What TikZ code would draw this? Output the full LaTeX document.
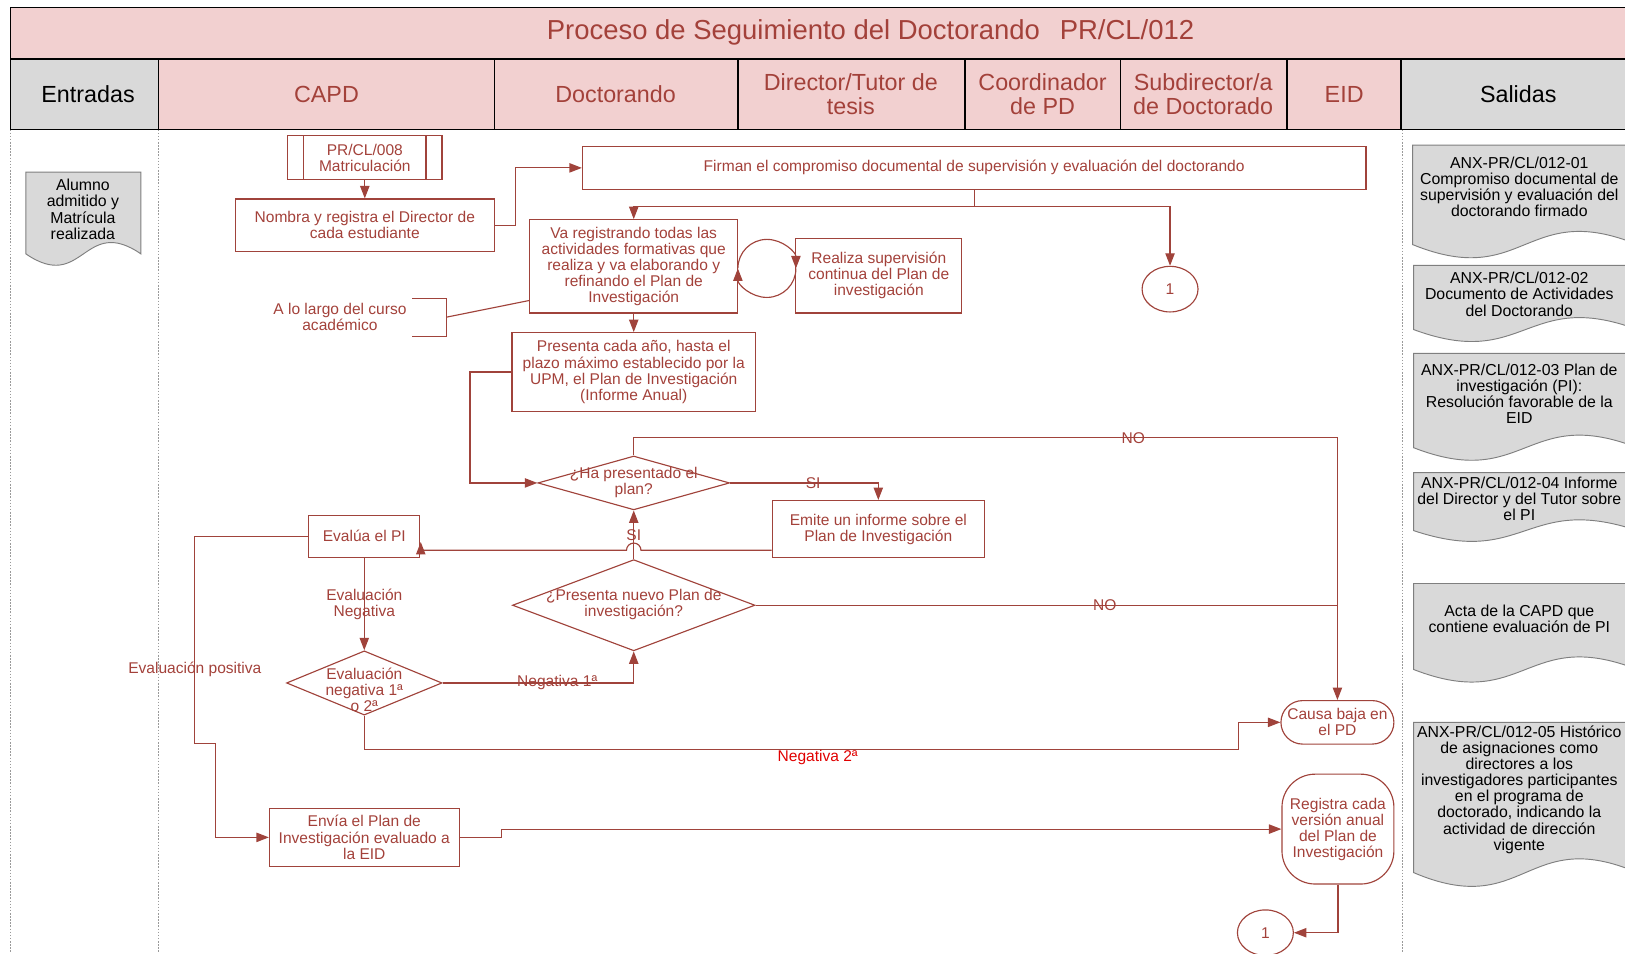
\documentclass[tikz,border=0pt]{standalone}
\usepackage{fontspec}
\setmainfont{Liberation Sans}
\usetikzlibrary{shapes.geometric,shapes.misc,arrows.meta}
\definecolor{boxc}{HTML}{A0433B}
\definecolor{txtc}{HTML}{A3413A}
\definecolor{pinkf}{HTML}{F2D0D0}
\definecolor{grayf}{HTML}{D9D9D9}
\definecolor{docline}{HTML}{7F7F7F}
\definecolor{brightred}{HTML}{E00000}
\definecolor{laneg}{HTML}{9A9A9A}
\newcommand\fsbox{\fontsize{15}{15.5}\selectfont}
\newcommand\fsdoc{\fontsize{15.3}{15.5}\selectfont}
\newcommand\fshead{\fontsize{22.5}{23}\selectfont}
\newcommand\fstitle{\fontsize{26.5}{28}\selectfont}
\newcommand\mydoc[5]{%
  \draw[docst] (#1,#2) -- (#3,#2) -- (#3,#4) .. controls ({(#1+#3)/2},{#4-#5}) and ({(#1+#3)/2},{#4+#5}) .. (#1,#4) -- cycle;}
\begin{document}
\begin{tikzpicture}[x=1pt,y=-1pt,
  proc/.style={draw=boxc,line width=1.1pt,rectangle,inner sep=2pt,align=center,text=txtc,font=\fsbox},
  dec/.style={draw=boxc,line width=1.1pt,diamond,inner sep=0pt},
  lbl/.style={text=txtc,font=\fsbox,align=center,inner sep=1pt},
  conn/.style={draw=boxc,line width=1.1pt,ellipse,inner sep=0pt,minimum width=54pt,minimum height=44pt,text=txtc,font=\fsbox},
  arr/.style={draw=boxc,line width=1.1pt,-{Triangle[length=12pt,width=9pt]}},
  ln/.style={draw=boxc,line width=1.1pt},
  docst/.style={draw=docline,fill=grayf,line width=0.9pt},
  doctext/.style={align=center,font=\fsdoc,text=black,inner sep=0pt},
  hcell/.style={draw=black,line width=1.3pt},
  htext/.style={font=\fshead,align=center,inner sep=0pt},
  lane/.style={draw=laneg,line width=0.8pt,dash pattern=on 1.5pt off 1.5pt}]
\useasboundingbox (0,0) rectangle (1568,920);

% ---------- header ----------
\fill[pinkf] (10,7) rectangle (1580,57);
\fill[grayf] (10,57) rectangle (153,125);
\fill[pinkf] (153,57) rectangle (1352,125);
\fill[grayf] (1352,57) rectangle (1580,125);
\draw[hcell] (1580,7) -- (10,7) -- (10,125) -- (1580,125);
\draw[hcell] (10,57) -- (1580,57);
\foreach \xx in {153,477,712,931,1081,1242,1352} {\draw[hcell] (\xx,57) -- (\xx,125);}
\node[text=txtc,font=\fstitle,inner sep=0pt] (title) at (840,31) {Proceso de Seguimiento del Doctorando\hspace{0.45em} PR/CL/012};
\node[htext,text=black] (hE) at (85,91) {Entradas};
\node[htext,text=txtc] (hC) at (315,91) {CAPD};
\node[htext,text=txtc] (hD) at (594,91) {Doctorando};
\node[htext,text=txtc] (hT) at (821,91) {Director/Tutor de\\tesis};
\node[htext,text=txtc] (hCo) at (1006,91) {Coordinador\\de PD};
\node[htext,text=txtc] (hS) at (1161,91) {Subdirector/a\\de Doctorado};
\node[htext,text=txtc] (hEID) at (1297,91) {EID};
\node[htext,text=black] (hSal) at (1465,91) {Salidas};

% lanes
\draw[lane] (10,125) -- (10,920);
\draw[lane] (153,125) -- (153,920);
\draw[lane] (1353,125) -- (1353,920);

% ---------- inputs / outputs ----------
\mydoc{25}{166}{136}{245}{38}
\node[doctext] (inA) at (80,202) {Alumno\\admitido y\\Matrícula\\realizada};

\mydoc{1363}{140}{1580}{236}{44}
\node[doctext] (o1) at (1466,180) {ANX-PR/CL/012-01\\Compromiso documental de\\supervisión y evaluación del\\doctorando firmado};
\mydoc{1364}{256}{1580}{318}{40}
\node[doctext] (o2) at (1466,284) {ANX-PR/CL/012-02\\Documento de Actividades\\del Doctorando};
\mydoc{1364}{341}{1580}{432}{42}
\node[doctext] (o3) at (1466,380) {ANX-PR/CL/012-03 Plan de\\investigación (PI):\\Resolución favorable de la\\EID};
\mydoc{1364}{456}{1580}{512}{36}
\node[doctext] (o4) at (1466,481) {ANX-PR/CL/012-04 Informe\\del Director y del Tutor sobre\\el PI};
\mydoc{1364}{563}{1580}{646}{42}
\node[doctext] (o5) at (1466,597) {Acta de la CAPD que\\contiene evaluación de PI};
\mydoc{1364}{697}{1580}{842}{46}
\node[doctext] (o6) at (1466,762) {ANX-PR/CL/012-05 Histórico\\de asignaciones como\\directores a los\\investigadores participantes\\en el programa de\\doctorado, indicando la\\actividad de dirección\\vigente};

% ---------- process nodes ----------
\node[proc,minimum width=149pt,minimum height=42pt] (pr8) at (352,152) {PR/CL/008\\Matriculación};
\draw[ln] ([xshift=16pt]pr8.north west) -- ([xshift=16pt]pr8.south west);
\draw[ln] ([xshift=-16pt]pr8.north east) -- ([xshift=-16pt]pr8.south east);
\node[proc,minimum width=250pt,minimum height=51pt] (nom) at (352,217.5) {Nombra y registra el Director de\\cada estudiante};
\node[proc,minimum width=756pt,minimum height=42pt] (fir) at (940,162) {Firman el compromiso documental de supervisión y evaluación del doctorando};
\node[proc,minimum width=201pt,minimum height=90pt] (va) at (611.5,257) {Va registrando todas las\\actividades formativas que\\realiza y va elaborando y\\refinando el Plan de\\Investigación};
\node[proc,minimum width=160pt,minimum height=72pt] (rea) at (848,266) {Realiza supervisión\\continua del Plan de\\investigación};
\node[proc,minimum width=235pt,minimum height=76pt] (pre) at (611.5,359) {Presenta cada año, hasta el\\plazo máximo establecido por la\\UPM, el Plan de Investigación\\(Informe Anual)};
\node[dec,minimum width=185pt,minimum height=52pt] (d1) at (611.5,466) {};
\node[lbl] (d1t) at (611.5,466) {¿Ha presentado el\\plan?};
\node[proc,minimum width=205pt,minimum height=55pt] (emi) at (847.5,510.5) {Emite un informe sobre el\\Plan de Investigación};
\node[proc,minimum width=107pt,minimum height=41pt] (eva) at (351.5,517.5) {Evalúa el PI};
\node[dec,minimum width=234pt,minimum height=88pt] (d2) at (611.5,584) {};
\node[lbl] (d2t) at (611.5,583) {¿Presenta nuevo Plan de\\investigación?};
\node[dec,minimum width=150pt,minimum height=62pt] (d3) at (351.5,659) {};
\node[lbl] (d3t) at (351.5,666) {Evaluación\\negativa 1ª\\o 2ª};
\node[proc,rounded corners=21pt,minimum width=109pt,minimum height=42pt] (cau) at (1290.5,697) {Causa baja en\\el PD};
\node[proc,minimum width=183pt,minimum height=56pt] (env) at (351.5,808) {Envía el Plan de\\Investigación evaluado a\\la EID};
\node[proc,rounded corners=32pt,minimum width=108pt,minimum height=106pt] (reg) at (1291,800) {Registra cada\\versión anual\\del Plan de\\Investigación};
\node[conn] (c1a) at (1129,279) {1};
\node[conn] (c1b) at (1221,900) {1};

% annotation
\node[lbl] (alo) at (328,306) {A lo largo del curso\\académico};
\coordinate (brt) at (398,288);
\coordinate (brb) at (398,325);
\coordinate (brm) at (431,306);
\draw[ln] (brt) -- (431,288) -- (431,325) -- (brb);
\draw[ln] (brm) -- (va.west |- 0,290);

% ---------- connectors ----------
\draw[arr] (pr8) -- (nom);
\draw[arr] (nom.east) -- ++(20,0) |- (fir.west);
\coordinate (split) at (940,199);
\draw[ln] (fir.south) -- (split);
\draw[arr] (split) -| (va.north);
\draw[arr] (split) -| (c1a.north);
% loop between va and rea
\coordinate (lc) at (740,259);
\draw[ln] (768,259) arc[start angle=0,end angle=90,radius=28];
\draw[ln] (712,259) arc[start angle=180,end angle=270,radius=28];
\draw[arr] (740,231) arc[start angle=-90,end angle=0,radius=28];
\draw[arr] (740,287) arc[start angle=90,end angle=180,radius=28];

\draw[arr] (va.south) -- (pre.north);
\draw[arr] (pre.west) -- ++(-40,0) |- (d1.west);
\draw[arr] (d1.north) -- ++(0,-17) -| (cau.north) node[lbl,pos=0.355] (noA) {NO};
\draw[arr] (d1.east) -| (emi.north) node[lbl,pos=0.28] (siA) {SI};
\draw[arr] (emi.west |- 0,531) -- (618.5,531) arc[start angle=0,end angle=-180,radius=7] -- (406,531) -- (406,523);
\draw[arr] (d2.north) -- (d1.south) node[lbl,midway] (siB) {SI};
\draw[ln] (d2.east) -- (cau.north |- d2.east) node[lbl,pos=0.6] (noB) {NO};
\draw[arr] (eva.west) -- (188,517.5) -- (188,717) -- (208,717) |- (env.west);
\node[lbl] (evpos) at (188,646) {Evaluación positiva};
\draw[arr] (eva.south) -- (d3.north) node[lbl,midway] (evneg) {Evaluación\\Negativa};
\draw[arr] (d3.east) -| (d2.south) node[lbl,pos=0.3] (neg1) {Negativa 1ª};
\draw[arr] (d3.south) -- (351.5,723) -- (1195,723) |- (cau.west);
\node[font=\fsbox,text=brightred,inner sep=0pt] (neg2) at (789,731) {Negativa 2ª};
\draw[arr] (env.east) -- (484,808) -- (484,800) -- (reg.west);
\draw[arr] (reg.south) |- (c1b.east);
\end{tikzpicture}
\end{document}
